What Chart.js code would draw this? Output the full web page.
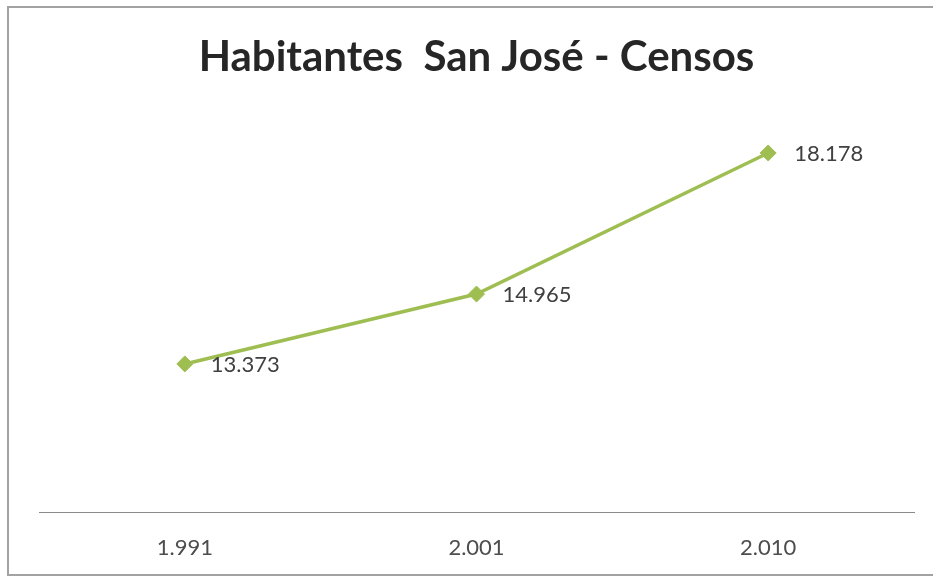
<!DOCTYPE html>
<html>
<head>
<meta charset="utf-8">
<script src="https://cdn.jsdelivr.net/npm/chart.js@4/dist/chart.umd.min.js"></script>
<style>
  html, body { margin: 0; padding: 0; background: #ffffff; }
  #wrap { width: 933px; height: 577px; position: relative; }
</style>
</head>
<body>
<div id="wrap"><canvas id="c" width="933" height="577"></canvas></div>
<script>
// Census years and population counts
const censusYears = ['1.991', '2.001', '2.010'];
const inhabitants = [13373, 14965, 18178];
const titleText = 'Habitantes  San José - Censos';

// Thousands separator with a dot, as in "13.373"
function fmt(n) {
  return String(n).replace(/\B(?=(\d{3})+(?!\d))/g, '.');
}

const frame = {
  id: 'frame',
  beforeDraw(chart) {
    const ctx = chart.ctx;
    ctx.save();
    ctx.fillStyle = '#ffffff';
    ctx.fillRect(0, 0, chart.width, chart.height);
    ctx.strokeStyle = '#a3a3a3';
    ctx.lineWidth = 2;
    ctx.beginPath();
    ctx.moveTo(chart.width, 7);
    ctx.lineTo(8, 7);
    ctx.lineTo(8, 575);
    ctx.lineTo(chart.width, 575);
    ctx.stroke();
    ctx.restore();
  }
};

const valueLabels = {
  id: 'valueLabels',
  afterDatasetsDraw(chart) {
    const ctx = chart.ctx;
    const meta = chart.getDatasetMeta(0);
    ctx.save();
    ctx.font = '22px Lato';
    ctx.fillStyle = '#404040';
    ctx.textAlign = 'left';
    ctx.textBaseline = 'middle';
    meta.data.forEach((pt, i) => {
      ctx.fillText(fmt(chart.data.datasets[0].data[i]), pt.x + 26, pt.y + 1);
    });
    ctx.restore();
  }
};

new Chart(document.getElementById('c'), {
  type: 'line',
  data: {
    labels: censusYears,
    datasets: [{
      data: inhabitants,
      borderColor: '#9fbe52',
      backgroundColor: '#9fbe52',
      borderWidth: 3.5,
      pointStyle: 'rectRot',
      pointRadius: 8,
      pointHoverRadius: 8,
      pointBorderWidth: 1,
      tension: 0
    }]
  },
  options: {
    responsive: false,
    animation: false,
    events: [],
    layout: { padding: { left: 39, right: 19, top: 0, bottom: 0 } },
    plugins: {
      legend: { display: false },
      tooltip: { enabled: false },
      title: {
        display: true,
        text: titleText,
        color: '#262626',
        font: { family: 'Lato', size: 42, weight: 'bold', lineHeight: 1 },
        padding: { top: 36, bottom: -5 }
      }
    },
    scales: {
      x: {
        offset: true,
        grid: { display: false, drawTicks: false },
        border: { display: true, color: '#8a8a8a', width: 1 },
        ticks: { color: '#4d4d4d', font: { family: 'Lato', size: 22 }, padding: 23 },
        afterFit(scale) { scale.height = 65; }
      },
      y: {
        display: false,
        min: 10000,
        max: 20000
      }
    }
  },
  plugins: [frame, valueLabels]
});
</script>
</body>
</html>
